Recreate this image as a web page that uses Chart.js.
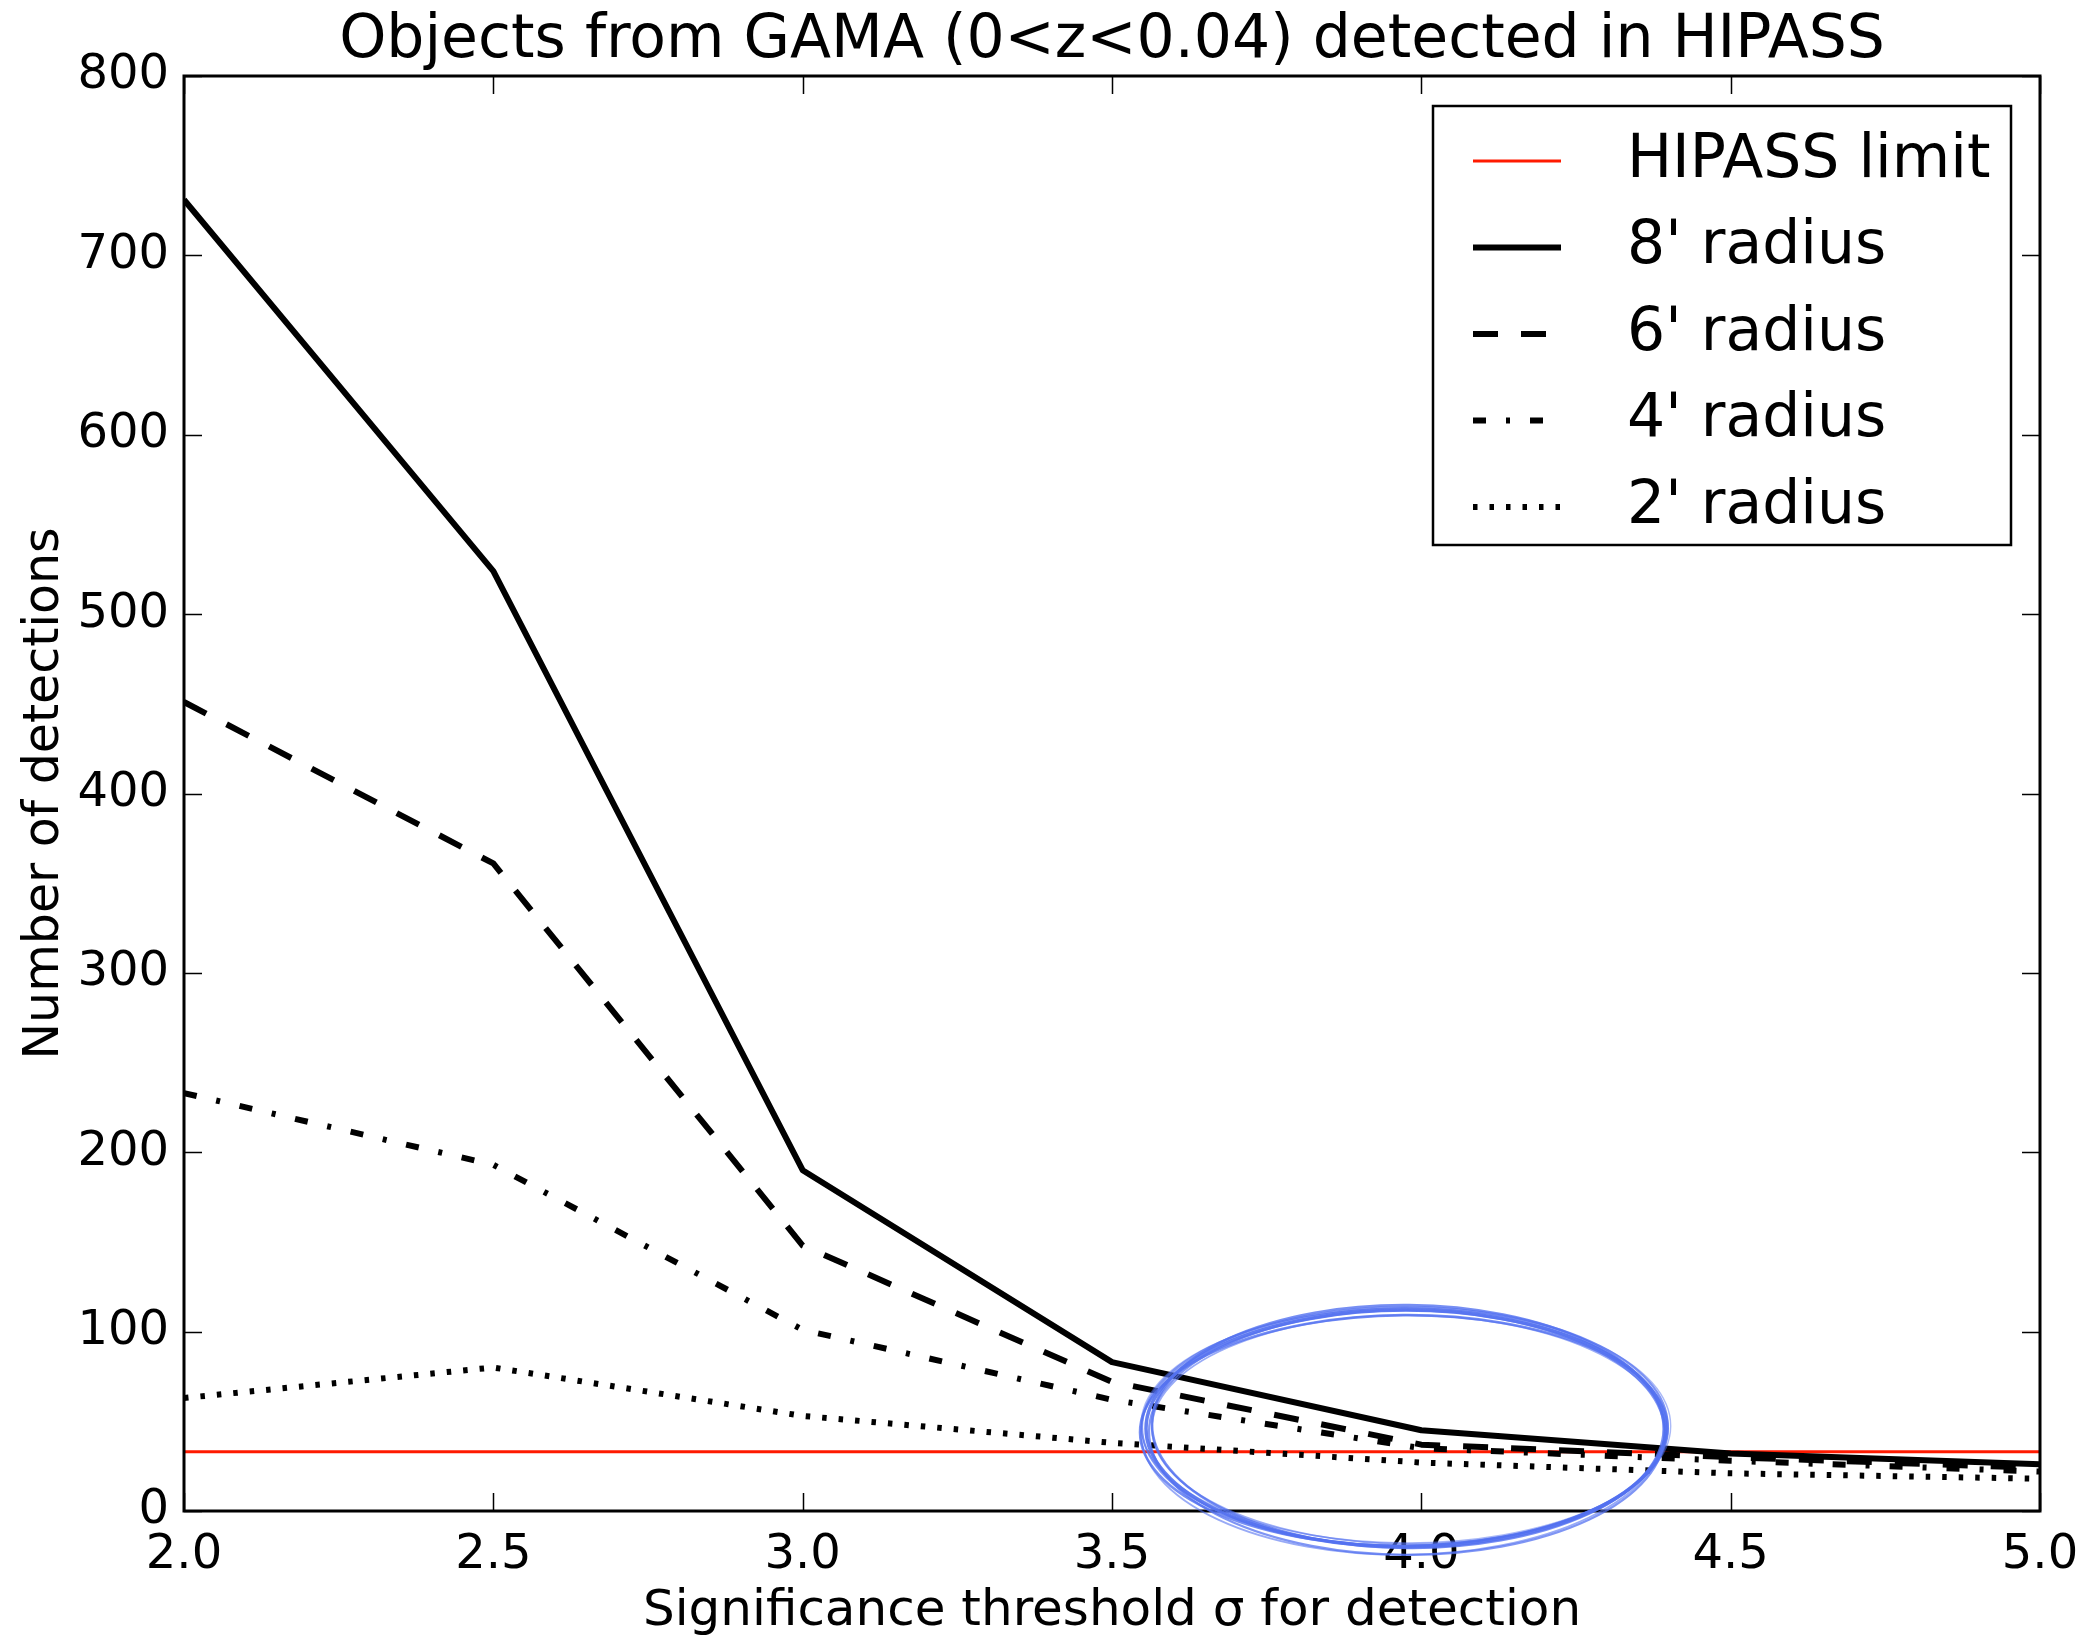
<!DOCTYPE html>
<html>
<head>
<meta charset="utf-8">
<title>Objects from GAMA detected in HIPASS</title>
<script src="https://cdn.jsdelivr.net/npm/chart.js@4.4.1/dist/chart.umd.min.js"></script>
<style>
  html, body { margin: 0; padding: 0; background: #fff; }
  #wrap { width: 2088px; height: 1637px; }
</style>
</head>
<body>
<div id="wrap"><canvas id="chartDetections" width="2088" height="1637"></canvas></div>
<script>
// significance thresholds (sigma) and detection counts per search radius
const thresholds = [2.0, 2.5, 3.0, 3.5, 4.0, 4.5, 5.0];
const radius8 = [731, 524, 190, 83, 45, 32, 26];
const radius6 = [451, 361, 148, 72, 37, 30, 24];
const radius4 = [233, 193, 101, 62, 35, 28, 22];
const radius2 = [63, 80, 53, 38, 27, 21, 18];
const hipassLimit = 33;

const xTicks = [2.0, 2.5, 3.0, 3.5, 4.0, 4.5, 5.0];
const yTicks = [0, 100, 200, 300, 400, 500, 600, 700, 800];

// hand-drawn ring around the crossover region (data units)
const ring = { x: 3.975, y: 46, rx: 0.42, ry: 66 };

const FONT = 'DejaVu Sans';

const toPoints = (vals) => vals.map((v, i) => ({ x: thresholds[i], y: v }));

// matplotlib-like frame with inward ticks on all four sides
const frameTicks = {
  id: 'frameTicks',
  afterDatasetsDraw(chart) {
    const { ctx, chartArea: { left, right, top, bottom }, scales: { x, y } } = chart;
    const len = 18;
    ctx.save();
    ctx.strokeStyle = '#000';
    ctx.lineWidth = 1.5;
    ctx.beginPath();
    xTicks.forEach((v) => {
      const px = Math.round(x.getPixelForValue(v)) + 0.5;
      ctx.moveTo(px, bottom); ctx.lineTo(px, bottom - len);
      ctx.moveTo(px, top); ctx.lineTo(px, top + len);
    });
    yTicks.forEach((v) => {
      const py = Math.round(y.getPixelForValue(v)) + 0.5;
      ctx.moveTo(left, py); ctx.lineTo(left + len, py);
      ctx.moveTo(right, py); ctx.lineTo(right - len, py);
    });
    ctx.stroke();
    ctx.lineWidth = 3;
    ctx.strokeRect(left, top, right - left, bottom - top);
    ctx.restore();
  },
};

// boxed legend in the upper right corner
const boxLegend = {
  id: 'boxLegend',
  afterDatasetsDraw(chart) {
    const { ctx, chartArea } = chart;
    const w = 578;
    const h = 439;
    const bx = chartArea.right - 29 - w;
    const by = chartArea.top + 30;
    ctx.save();
    ctx.fillStyle = '#fff';
    ctx.fillRect(bx, by, w, h);
    ctx.strokeStyle = '#000';
    ctx.lineWidth = 2.5;
    ctx.strokeRect(bx, by, w, h);
    ctx.font = `60px "${FONT}"`;
    ctx.textBaseline = 'middle';
    ctx.textAlign = 'left';
    chart.data.datasets.forEach((ds, i) => {
      const cy = by + 55 + i * 86.5;
      ctx.save();
      ctx.strokeStyle = ds.borderColor;
      ctx.lineWidth = ds.borderWidth;
      ctx.setLineDash(ds.borderDash || []);
      ctx.beginPath();
      ctx.moveTo(bx + 40, cy);
      ctx.lineTo(bx + 128, cy);
      ctx.stroke();
      ctx.restore();
      ctx.fillStyle = '#000';
      ctx.fillText(ds.label, bx + 194, cy);
    });
    ctx.restore();
  },
};

// sketchy blue ellipse, several loose passes of the pen
const penRing = {
  id: 'penRing',
  afterDraw(chart) {
    const { ctx, scales: { x, y } } = chart;
    const cx = x.getPixelForValue(ring.x);
    const cy = y.getPixelForValue(ring.y);
    const rx = x.getPixelForValue(ring.x + ring.rx) - cx;
    const ry = cy - y.getPixelForValue(ring.y + ring.ry);
    const passes = [
      [0, 0, 0, 0, 0.000, 3.5, 0.9],
      [2, -2, -4, 3, 0.010, 2.6, 0.8],
      [-2, 2, 4, -3, -0.008, 2.6, 0.8],
      [1, 4, -2, 4, 0.004, 2.2, 0.75],
      [-1, -2, 3, 1, -0.003, 2.2, 0.75],
      [3, 1, -3, -4, 0.006, 1.8, 0.6],
      [-3, 3, 2, 5, -0.005, 1.8, 0.6],
      [0, -3, 5, -1, 0.002, 1.4, 0.5],
    ];
    ctx.save();
    passes.forEach(([dx, dy, drx, dry, rot, lw, a]) => {
      ctx.strokeStyle = `rgba(84, 114, 240, ${a})`;
      ctx.lineWidth = lw;
      ctx.beginPath();
      ctx.ellipse(cx + dx, cy + dy, rx + drx, ry + dry, rot, 0, Math.PI * 2);
      ctx.stroke();
    });
    ctx.restore();
  },
};

const ctx = document.getElementById('chartDetections').getContext('2d');

new Chart(ctx, {
  type: 'line',
  data: {
    datasets: [
      {
        label: 'HIPASS limit',
        data: [{ x: thresholds[0], y: hipassLimit }, { x: thresholds[thresholds.length - 1], y: hipassLimit }],
        borderColor: '#ff1a00',
        borderWidth: 3,
        order: 5,
      },
      {
        label: "8' radius",
        data: toPoints(radius8),
        borderColor: '#000',
        borderWidth: 6,
        order: 1,
      },
      {
        label: "6' radius",
        data: toPoints(radius6),
        borderColor: '#000',
        borderWidth: 6,
        borderDash: [25, 23],
        order: 2,
      },
      {
        label: "4' radius",
        data: toPoints(radius4),
        borderColor: '#000',
        borderWidth: 6,
        borderDash: [13, 20, 4, 20],
        order: 3,
      },
      {
        label: "2' radius",
        data: toPoints(radius2),
        borderColor: '#000',
        borderWidth: 6,
        borderDash: [4.5, 12],
        order: 4,
      },
    ],
  },
  options: {
    responsive: false,
    devicePixelRatio: 1,
    animation: false,
    layout: { padding: { left: 0, right: 48, top: 0, bottom: 0 } },
    elements: {
      point: { radius: 0 },
      line: { tension: 0, borderCapStyle: 'butt', borderJoinStyle: 'round', fill: false },
    },
    plugins: {
      legend: { display: false },
      tooltip: { enabled: false },
      title: {
        display: true,
        fullSize: false,
        text: 'Objects from GAMA (0<z<0.04) detected in HIPASS',
        color: '#000',
        font: { family: FONT, size: 60, weight: 'normal', lineHeight: 1.15 },
        padding: { top: 7, bottom: 0 },
      },
    },
    scales: {
      x: {
        type: 'linear',
        min: 2,
        max: 5,
        afterBuildTicks: (scale) => { scale.ticks = xTicks.map((v) => ({ value: v })); },
        afterFit: (scale) => {
          scale.height = 126;
          scale.paddingLeft = 0;
          scale.paddingRight = 0;
        },
        grid: { display: false },
        border: { display: false },
        ticks: {
          color: '#000',
          padding: 8,
          maxRotation: 0,
          font: { family: FONT, size: 48 },
          callback: (v) => Number(v).toFixed(1),
        },
        title: {
          display: true,
          text: 'Significance threshold σ for detection',
          color: '#000',
          font: { family: FONT, size: 50, lineHeight: 0.9 },
          padding: { top: 0, bottom: 2 },
        },
      },
      y: {
        type: 'linear',
        min: 0,
        max: 800,
        afterBuildTicks: (scale) => { scale.ticks = yTicks.map((v) => ({ value: v })); },
        afterFit: (scale) => {
          scale.width = 184;
          scale.paddingTop = 0;
          scale.paddingBottom = 0;
        },
        grid: { display: false },
        border: { display: false },
        ticks: {
          color: '#000',
          padding: 7,
          font: { family: FONT, size: 48 },
        },
        title: {
          display: true,
          text: 'Number of detections',
          color: '#000',
          font: { family: FONT, size: 49, lineHeight: 1.2 },
          padding: { top: 16, bottom: 0 },
        },
      },
    },
  },
  plugins: [frameTicks, boxLegend, penRing],
});
</script>
</body>
</html>
